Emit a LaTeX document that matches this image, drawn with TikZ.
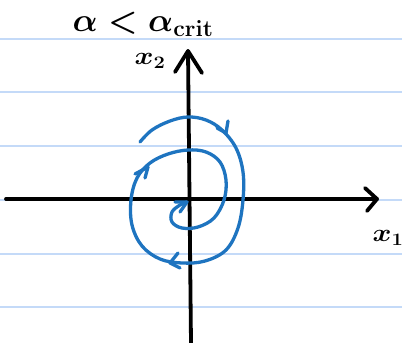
\RequirePackage{fix-cm}
\documentclass[tikz,border=0pt]{standalone}
\usetikzlibrary{calc}
\definecolor{ruled}{RGB}{196,218,248}
\definecolor{pen}{RGB}{30,116,192}
\tikzset{
  ruleline/.style={ruled, line width=2.2pt},
  axisline/.style={black, line width=3.8pt, line cap=round, line join=round},
  spiral/.style={pen, line width=3.3pt, line cap=round, line join=round},
  lbl/.style={inner sep=0pt, anchor=center},
}
\begin{document}
\begin{tikzpicture}[x=1pt,y=-1pt]
\useasboundingbox (0,0) rectangle (402,343);
\fill[white] (0,0) rectangle (402,343);
% ruled paper lines
\foreach \yy in {39,92,146,200,254,307}
  \draw[ruleline] (0,\yy) -- (402,\yy);
% axes
\coordinate (xs) at (6,199);
\coordinate (xe) at (377,199);
\coordinate (ys) at (191,343);
\coordinate (ye) at (188,51);
\draw[axisline] (xs) -- (xe);
\draw[axisline] (365,188) -- (xe) -- (367,211);
\draw[axisline] (ys) -- (ye);
\draw[axisline] (175,72) -- (ye) -- (202,73);
% labels
\node[lbl] (title) at (143,24) {\scalebox{1}{\fontsize{33}{33}\selectfont\boldmath$\alpha < \alpha_{\mathrm{crit}}$}};
\node[lbl] (x2) at (150,61) {\scalebox{1.15}[1]{\fontsize{25}{25}\selectfont\boldmath$x_2$}};
\node[lbl] (x1) at (388,238) {\scalebox{1.15}[1]{\fontsize{25}{25}\selectfont\boldmath$x_1$}};
% spiral
\draw[spiral] plot[smooth, tension=0.6] coordinates {
  (140,142) (152,130) (170,121) (188,117) (206,120) (222,130)
  (236,148) (243,172) (243,200) (238,228) (226,250) (205,261)
  (182,263) (160,259) (142,246) (132,225) (131,200) (137,178)
  (150,163) (168,154) (188,150) (206,152) (220,162) (226,180)
  (224,200) (214,218) (198,227) (182,228) (172,222) (172,212) (180,205) (187,202)};
% arrowheads on spiral
\draw[spiral] (217,128) -- (226,133) -- (228,121);
\draw[spiral] (178,253) -- (170,263) -- (180,268);
\draw[spiral] (135,174) -- (148,167) -- (145,178);
\draw[spiral] (175,202) -- (187,202) -- (180,212);
\end{tikzpicture}
\end{document}
